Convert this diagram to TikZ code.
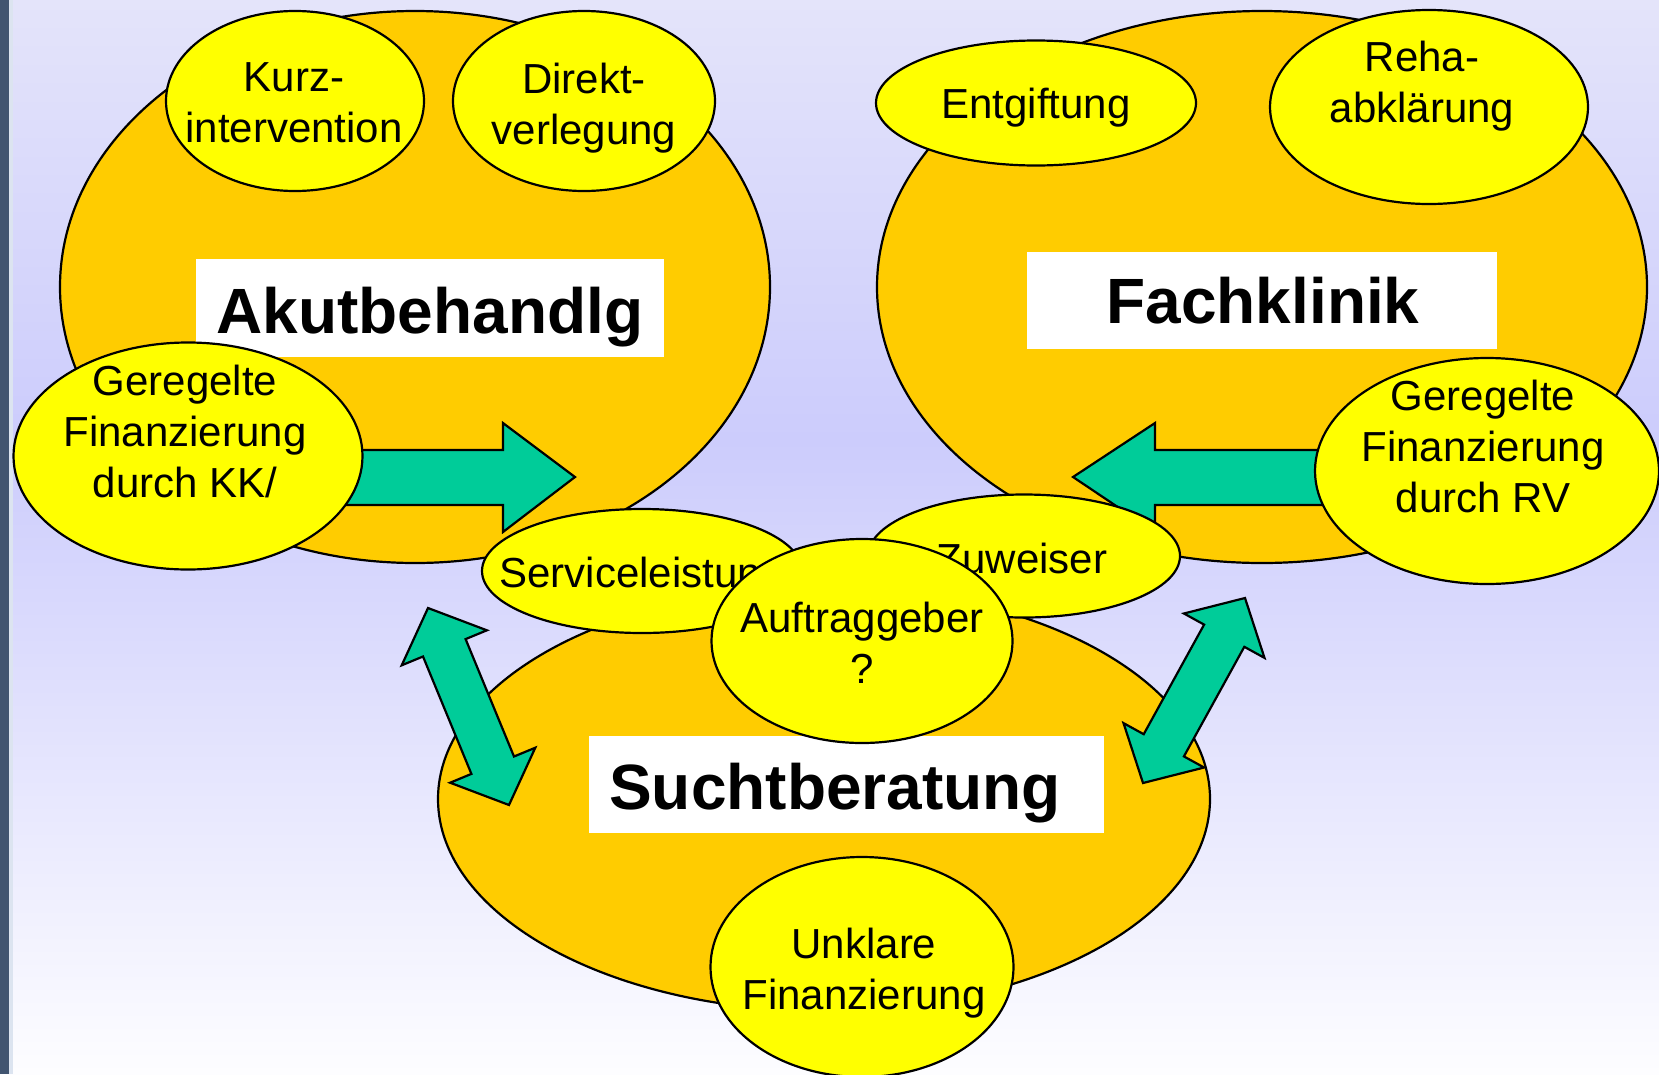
\documentclass[tikz,border=0pt]{standalone}
\usepackage{fontspec}
\setmainfont{Liberation Sans}
\usetikzlibrary{shapes.geometric}
\definecolor{bgtop}{HTML}{E4E4FA}
\definecolor{bgmid}{HTML}{CCCCFC}
\definecolor{bgbot}{HTML}{FDFDFF}
\definecolor{barc}{HTML}{415470}
\definecolor{barl}{HTML}{DCE4F0}
\definecolor{orng}{HTML}{FFCC00}
\definecolor{yell}{HTML}{FFFF00}
\definecolor{arrowc}{HTML}{00CC99}
\begin{document}
\begin{tikzpicture}[x=1pt,y=-1pt,
  big/.style={ellipse, draw=black, line width=2.2pt, fill=orng, inner sep=0pt, outer sep=0pt},
  small/.style={ellipse, draw=black, line width=2.2pt, fill=yell, inner sep=0pt, outer sep=0pt},
  txt/.style={anchor=north, inner sep=0pt, align=center, font=\fontsize{42}{51}\selectfont},
  title/.style={anchor=base, inner sep=0pt, font=\fontsize{64}{77}\selectfont\bfseries},
  plate/.style={rectangle, fill=white, draw=none, inner sep=0pt, outer sep=0pt},
  blk/.style={fill=arrowc, draw=black, line width=2.2pt, line join=miter}]
\useasboundingbox (0,0) rectangle (1659,1074);
% background
\shade[top color=bgtop, bottom color=bgmid] (0,0) rectangle (1659,441);
\shade[top color=bgmid, bottom color=bgbot] (0,440) rectangle (1659,1074);
\fill[barc] (0,0) rectangle (8.5,1074);
\fill[barl] (8.5,0) rectangle (13,1074);
% big ellipses
\node[big, minimum width=710pt, minimum height=552pt] (akut) at (415,287) {};
\node[big, minimum width=770pt, minimum height=552pt] (fach) at (1262,287) {};
\node[big, minimum width=772pt, minimum height=424pt] (sucht) at (824,799) {};
% block arrows
\draw[blk] (330,450) -- (503,450) -- (503,423) -- (575,477) -- (503,532) -- (503,505) -- (330,505) -- cycle;
\draw[blk] (1360,450) -- (1155,450) -- (1155,423) -- (1073,477) -- (1155,532) -- (1155,505) -- (1360,505) -- cycle;
\draw[blk] (428,608) -- (486.9,630.3) -- (465.6,639.1) -- (514.0,756.5) -- (535.3,747.7) -- (509,805)
  -- (450.1,782.7) -- (471.4,773.9) -- (423.0,656.5) -- (401.7,665.3) -- cycle;
\draw[blk] (1245,598) -- (1264.5,657.9) -- (1244.3,646.8) -- (1183.9,756.4) -- (1204.1,767.5) -- (1143,783)
  -- (1123.5,723.1) -- (1143.7,734.2) -- (1204.1,624.6) -- (1183.9,613.5) -- cycle;
% title plates
\node[plate, minimum width=468pt, minimum height=98pt] (akutp) at (430,308) {};
\node[title] (akutt) at (430,333) {Akutbehandlg};
\node[plate, minimum width=470pt, minimum height=97pt] (fachp) at (1262,300.5) {};
\node[title] (facht) at (1263,323) {Fachklinik};
\node[plate, minimum width=515pt, minimum height=97pt] (suchtp) at (846.5,784.5) {};
\node[title] (suchtt) at (835,809) {Suchtberatung};
% small ellipses
\node[small, minimum width=258pt, minimum height=180pt] (kurz) at (295,101) {};
\node[txt] (kurzt) at (294,62) {Kurz-\\intervention};
\node[small, minimum width=262pt, minimum height=180pt] (direkt) at (584,101) {};
\node[txt] (direktt) at (584,63) {Direkt-\\verlegung};
\node[small, minimum width=320pt, minimum height=125pt] (entg) at (1036,103) {};
\node[txt] (entgt) at (1036,88) {Entgiftung};
\node[small, minimum width=318pt, minimum height=194pt] (reha) at (1429,107) {};
\node[txt] (rehat) at (1422,41) {Reha-\\abklärung};
\node[small, minimum width=349pt, minimum height=227pt] (kk) at (188,456) {};
\node[txt] (kkt) at (185,365) {Geregelte\\Finanzierung\\durch KK/};
\node[small, minimum width=344pt, minimum height=226pt] (rv) at (1487,471) {};
\node[txt] (rvt) at (1483,380) {Geregelte\\Finanzierung\\durch RV};
\node[small, minimum width=320pt, minimum height=124pt] (service) at (642,571) {};
\node[txt] (servicet) at (642,557) {Serviceleistung};
\node[small, minimum width=312pt, minimum height=123pt] (zuw) at (1024,556) {};
\node[txt] (zuwt) at (1022,543) {Zuweiser};
\node[small, minimum width=301pt, minimum height=204pt] (auftr) at (862,641) {};
\node[txt] (auftrt) at (862,602) {Auftraggeber\\?};
\node[small, minimum width=303pt, minimum height=220pt] (unkl) at (862,967) {};
\node[txt] (unklt) at (864,928) {Unklare\\Finanzierung};
\end{tikzpicture}
\end{document}
